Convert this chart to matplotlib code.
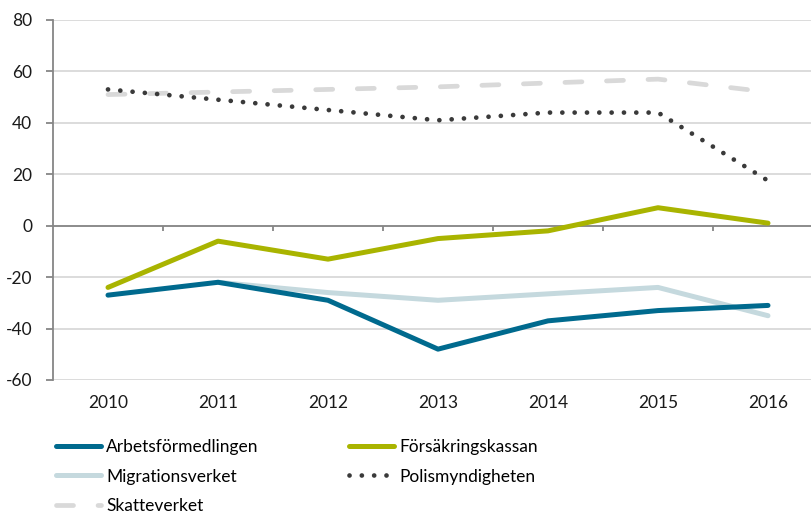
import numpy as np
import matplotlib.pyplot as plt

plt.rcParams['font.family'] = ['Lato', 'DejaVu Sans']
plt.rcParams['axes.unicode_minus'] = False

years = ['2010', '2011', '2012', '2013', '2014', '2015', '2016']
arbetsformedlingen = [-27, -22, -29, -48, -37, -33, -31]
forsakringskassan = [-24, -6, -13, -5, -2, 7, 1]
migrationsverket = [np.nan, -22, -26, -29, -26.5, -24, -35]
polismyndigheten = [53, 49, 45, 41, 44, 44, 17.5]
skatteverket = [51, 52, 53, 54, 55.5, 57, 52]

x = np.arange(len(years))

fig = plt.figure(figsize=(8.12, 5.16), dpi=100)
ax = fig.add_axes([53 / 812, 136 / 516, 770 / 812, 360 / 516])

# grid + axes
for v in range(-60, 81, 20):
    ax.axhline(v, color='#d9d9d9', lw=1.3, zorder=0)
ax.axhline(0, color='#868686', lw=1.3, zorder=1)
ax.vlines(x[:-1] + 0.5, -2.0, 0, color='#868686', lw=1.3, zorder=1)

l_sk, = ax.plot(x, skatteverket, color='#d9d9d9', lw=3.4,
                linestyle=(0, (3.6, 5.2)), dash_capstyle='round', zorder=2)
l_po, = ax.plot(x, polismyndigheten, color='#3a3a3a', lw=3.4,
                linestyle=(0, (0.01, 2.6)), dash_capstyle='round', zorder=3)
l_mi, = ax.plot(x, migrationsverket, color='#c5d9de', lw=3.6,
                solid_capstyle='round', zorder=2)
l_fo, = ax.plot(x, forsakringskassan, color='#a9b400', lw=3.6,
                solid_capstyle='round', zorder=3)
l_ar, = ax.plot(x, arbetsformedlingen, color='#006a8e', lw=3.6,
                solid_capstyle='round', zorder=4)

ax.set_xlim(-0.5, 6.5)
ax.set_ylim(-60, 80)
ax.set_yticks(range(-60, 81, 20))
ax.set_xticks(x)
ax.set_xticklabels(years)
ax.tick_params(axis='x', length=0, pad=11, labelsize=12.5, colors='#1a1a1a')
ax.tick_params(axis='y', direction='out', length=5, width=1.3, color='#868686',
               pad=10, labelsize=12.5, labelcolor='#1a1a1a')
for s in ['top', 'right', 'bottom']:
    ax.spines[s].set_visible(False)
ax.spines['left'].set_color('#868686')
ax.spines['left'].set_linewidth(1.3)

handles = [l_ar, l_mi, l_sk, l_fo, l_po]
labels = ['Arbetsförmedlingen', 'Migrationsverket', 'Skatteverket',
          'Försäkringskassan', 'Polismyndigheten']
fig.legend(handles, labels, ncol=2, loc='upper left',
           bbox_to_anchor=(47 / 812, 86 / 516), frameon=False, borderpad=0,
           fontsize=12.5, handlelength=2.6, handletextpad=0.3,
           columnspacing=5.2, labelspacing=0.8)

fig.savefig('out.png', dpi=100)
